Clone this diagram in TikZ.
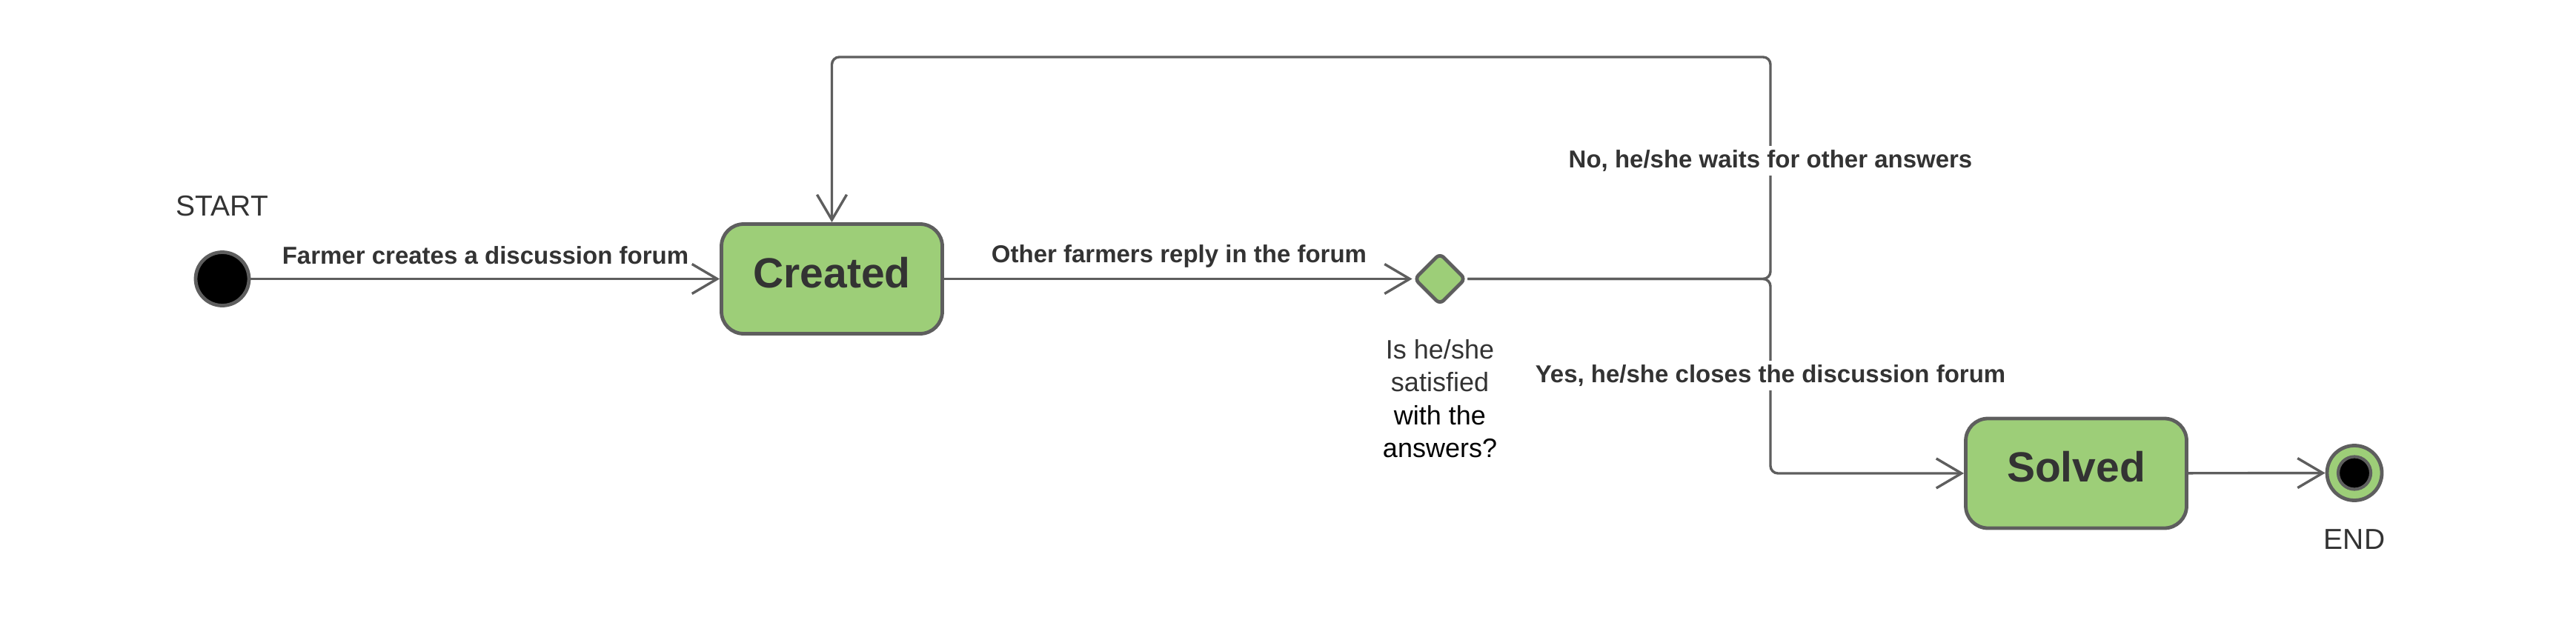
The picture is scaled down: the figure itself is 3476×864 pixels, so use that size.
\documentclass[tikz,border=0pt]{standalone}
\usepackage{fontspec}
\setmainfont{Liberation Sans}
\usetikzlibrary{arrows.meta,shapes.geometric}
\definecolor{lc}{HTML}{5E5E5E}
\definecolor{gfill}{HTML}{9DCE78}
\definecolor{tc}{HTML}{333333}
\begin{document}
\begin{tikzpicture}[x=1pt,y=-1pt,
  statebox/.style={draw=lc, line width=4.8pt, fill=gfill, rounded corners=30pt,
    minimum width=298pt, minimum height=148pt, inner sep=0pt,
    font=\fontsize{57}{60}\selectfont\bfseries, text=tc, text height=50pt, text depth=27pt},
  conn/.style={draw=lc, line width=3.4pt, -{Straight Barb[length=34pt,width=40pt]}},
  lbl/.style={font=\fontsize{33}{40}\selectfont\bfseries, text=tc, inner sep=0pt},
  plain/.style={font=\fontsize{39}{47}\selectfont, text=tc, inner sep=0pt}]
\path[use as bounding box, fill=white] (0,0) rectangle (3476,864);

% nodes
\node[circle, draw=lc, line width=4.8pt, fill=black, minimum size=72pt, inner sep=0pt] (start) at (300,376.5) {};
\node[plain, anchor=base] (startlbl) at (300,291) {START};
\node[statebox] (created) at (1122.5,376.5) {Created};
\node[diamond, draw=lc, line width=4.8pt, fill=gfill, minimum width=70pt, minimum height=70pt, inner sep=0pt, rounded corners=7pt] (dec) at (1943,376.5) {};
\node[font=\fontsize{36}{44.5}\selectfont, align=center, anchor=north, inner sep=0pt] (q) at (1943,458)
  {\textcolor{tc}{Is he/she}\\\textcolor{tc}{satisfied}\\with the\\answers?};
\node[statebox] (solved) at (2801.5,639) {Solved};
\node[circle, draw=lc, line width=4.8pt, fill=gfill, minimum size=74pt, inner sep=0pt] (endo) at (3177,638.5) {};
\node[circle, draw=lc, line width=4.2pt, fill=black, minimum size=44pt, inner sep=0pt] (endi) at (endo.center) {};
\node[plain, anchor=base] (endlbl) at (3177,741) {END};

\coordinate (J) at (2389,376.5);
\coordinate (T1) at (2389,77);
\coordinate (T2) at (created.north |- T1);
\coordinate (B1) at (J |- solved.west);

% connectors
\draw[conn] (start) -- (created);
\draw[conn] (created) -- (dec);
\draw[conn, rounded corners=10pt] (dec.east) -- (J) -- (T1) -- (T2) -- (created.north);
\draw[conn, rounded corners=10pt] (dec.east) -- (J) -- (B1) -- (solved.west);
\draw[conn] (solved) -- (endo);

% labels
\node[lbl, anchor=base] (l1) at (655,356) {Farmer creates a discussion forum};
\node[lbl, anchor=base] (l2) at (1591,354) {Other farmers reply in the forum};
\node[lbl, fill=white, inner sep=5pt] (l3) at (2389,217) {No, he/she waits for other answers};
\node[lbl, fill=white, inner sep=5pt] (l4) at (2389,507) {Yes, he/she closes the discussion forum};
\end{tikzpicture}
\end{document}
